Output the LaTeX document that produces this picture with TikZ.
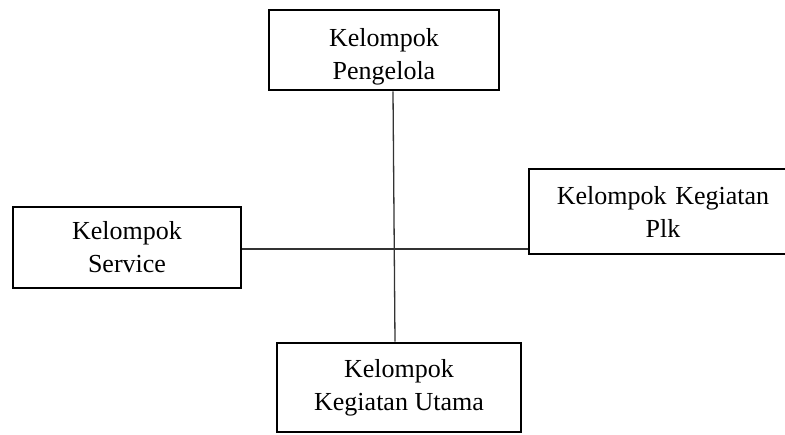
\documentclass[tikz,border=0pt]{standalone}
\usepackage{fontspec}
\setmainfont{Liberation Serif}
\usepackage{tikz}
\usetikzlibrary{positioning, calc}

\tikzset{
    groupbox/.style={draw, line width=2.8pt, align=center, inner sep=0pt,
        font=\fontsize{26}{33}\selectfont},
    link/.style={line width=1.3pt, draw=black!80}
}

\begin{document}
\begin{tikzpicture}[x=1pt, y=-1pt]
    \useasboundingbox (0,0) rectangle (785,435);

    % Boxes
    \node[groupbox, minimum width=230pt, minimum height=80pt] (kelola) at (384,50) {\rule{0pt}{31pt}Kelompok\\Pengelola};
    \node[groupbox, minimum width=228pt, minimum height=81pt] (service) at (127,247.5) {Kelompok\\Service};
    \node[groupbox, minimum width=258pt, minimum height=85pt, text width=254pt] (plk) at (658,211.5) {\hspace*{10pt}Kelompok Kegiatan\\\hspace*{10pt}Plk};
    \node[groupbox, minimum width=244pt, minimum height=89pt] (utama) at (399,387.5) {Kelompok\\Kegiatan Utama};

    % Lines
    \draw[link] ([xshift=9pt]kelola.south) -- ([xshift=-4pt]utama.north);
    \draw[link] ([yshift=-1.5pt]service.east) -- ([yshift=-1.5pt]service.east -| plk.west);
\end{tikzpicture}
\end{document}
